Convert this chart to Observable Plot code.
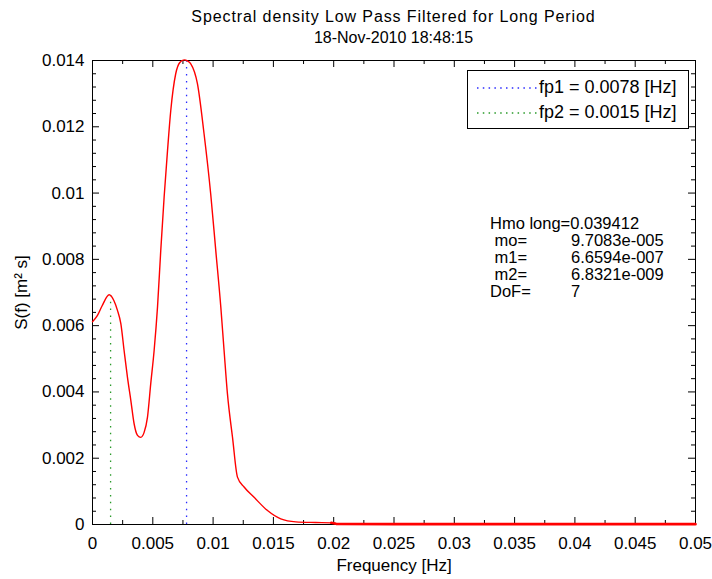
<!DOCTYPE html>
<html>
<head>
<meta charset="utf-8">
<script src="https://cdn.jsdelivr.net/npm/d3@7"></script>
<script src="https://cdn.jsdelivr.net/npm/@observablehq/plot@0.6"></script>
<style>
  body { margin: 0; background: #fff; }
  #wrap { position: relative; width: 712px; height: 579px; font-family: "Liberation Sans", Arial, sans-serif; color: #000; }
  #title { padding-left: 92px; width: 603px; text-align: center; font-size: 16px; line-height: 21px; padding-top: 6px; height: 44px; }
  #title .l1 { letter-spacing: 0.9px; }
  #legend { position: absolute; left: 467px; top: 70px; width: 220px; height: 57px; border: 1px solid #000; background: #fff; font-size: 18px; }
  #legend .row { position: absolute; left: 0; height: 22px; line-height: 22px; white-space: nowrap; }
  #legend svg { position: absolute; left: 9px; top: 10px; }
  #legend span { position: absolute; left: 71px; top: 0; }
  #notes { position: absolute; left: 0; top: 0; font-size: 16.5px; }
  #notes div { position: absolute; white-space: pre; line-height: 16px; height: 16px; }
</style>
</head>
<body>
<div id="wrap">
  <div id="title"><div class="l1">Spectral density Low Pass Filtered for Long Period</div><div>18-Nov-2010 18:48:15</div></div>
  <div id="chart"></div>
  <div id="legend"></div>
  <div id="notes"></div>
</div>
<script>
// ---- data ----
const freq = [0, 0.0004, 0.0008, 0.00138, 0.00177, 0.00207, 0.00235, 0.00262, 0.0029, 0.00318,
  0.00345, 0.00373, 0.004, 0.00428, 0.00456, 0.00483, 0.00511, 0.00539, 0.00566, 0.00594,
  0.00622, 0.00649, 0.0069, 0.00724, 0.0076, 0.0079, 0.00815, 0.0087, 0.00925, 0.0098,
  0.01022, 0.01064, 0.01091, 0.01119, 0.01161, 0.01202, 0.01257, 0.0134, 0.01451, 0.01561,
  0.01686, 0.0185, 0.0198, 0.0202, 0.025, 0.03, 0.035, 0.04, 0.045, 0.05];
const density = [0.00612, 0.0063, 0.0066, 0.00693, 0.00676, 0.00646, 0.00606, 0.00525, 0.00444, 0.00374,
  0.00304, 0.00269, 0.00263, 0.00278, 0.00324, 0.00425, 0.00525, 0.00656, 0.00827, 0.00988,
  0.01128, 0.01249, 0.0136, 0.01394, 0.01402, 0.01398, 0.0139, 0.0133, 0.01179, 0.00998,
  0.00827, 0.00656, 0.00525, 0.00394, 0.00263, 0.00143, 0.00113, 0.00082, 0.00042, 0.00017,
  0.00008, 0.00006, 0.00005, 0.00002, 0.00001, 0.00001, 0.00001, 0.00001, 0.00001, 0.00001];

const peakNames = ["fp1 = 0.0078 [Hz]", "fp2 = 0.0015 [Hz]"];
const peakFreq = [0.0078, 0.0015];
const peakTop = [0.0140, 0.0069];
const peakColors = ["#2b2bff", "#2a9a2a"];

const noteLabels = ["Hmo long=0.039412", " mo=", " m1=", " m2=", "DoF="];
const noteValues = ["", "9.7083e-005", "6.6594e-007", "6.8321e-009", "7"];

const xTicks = [0, 0.005, 0.01, 0.015, 0.02, 0.025, 0.03, 0.035, 0.04, 0.045, 0.05];
const xTickLabels = ["0", "0.005", "0.01", "0.015", "0.02", "0.025", "0.03", "0.035", "0.04", "0.045", "0.05"];
const xMinor = [0.0025, 0.0075, 0.0125, 0.0175, 0.0225, 0.0275, 0.0325, 0.0375, 0.0425, 0.0475];
const yTicks = [0, 0.002, 0.004, 0.006, 0.008, 0.01, 0.012, 0.014];
const yTickLabels = ["0", "0.002", "0.004", "0.006", "0.008", "0.01", "0.012", "0.014"];
const yMinor = [0.0004, 0.0008, 0.0012, 0.0016, 0.0024, 0.0028, 0.0032, 0.0036, 0.0044, 0.0048, 0.0052, 0.0056,
  0.0064, 0.0068, 0.0072, 0.0076, 0.0084, 0.0088, 0.0092, 0.0096, 0.0104, 0.0108, 0.0112, 0.0116,
  0.0124, 0.0128, 0.0132, 0.0136];

// ---- tables for the library ----
const curve = freq.map((f, i) => ({f, s: density[i]}));
const tail = curve.filter(d => d.f >= 0.0198);
const peaks = peakFreq.map((f, i) => ({f, top: peakTop[i], color: peakColors[i]}));
const xFmt = d => xTickLabels[xTicks.indexOf(d)];
const yFmt = d => yTickLabels[yTicks.indexOf(d)];

const W = 712, H = 529, ML = 92, MR = 17, MT = 10, MB = 55;
const innerW = W - ML - MR, innerH = H - MT - MB;

// inward tick marks (MATLAB style), drawn as short ticks via insets
const xIn = (data, side, len) => Plot.tickX(data, {x: d => d, stroke: "#000", strokeWidth: 1,
  [side === "bottom" ? "insetTop" : "insetBottom"]: innerH - len});
const yIn = (data, side, len) => Plot.tickY(data, {y: d => d, stroke: "#000", strokeWidth: 1,
  [side === "left" ? "insetRight" : "insetLeft"]: innerW - len});

const plot = Plot.plot({
  width: W,
  height: H,
  marginTop: MT,
  marginLeft: ML,
  marginRight: MR,
  marginBottom: MB,
  style: {fontFamily: "'Liberation Sans', Arial, sans-serif", fontSize: "17px", color: "#000", background: "#fff", overflow: "visible"},
  x: {domain: [0, 0.05]},
  y: {domain: [0, 0.014]},
  marks: [
    Plot.ruleX(peaks, {x: "f", y1: 0, y2: "top", stroke: "color", strokeWidth: 1.3, strokeDasharray: "1.5,5.4"}),
    Plot.frame({stroke: "#000"}),
    Plot.axisX(xTicks, {anchor: "bottom", tickSize: 0, tickPadding: 12, tickFormat: xFmt,
      label: "Frequency [Hz]", labelAnchor: "center", labelOffset: 46, labelArrow: "none", fontSize: 17}),
    Plot.axisY(yTicks, {anchor: "left", tickSize: 0, tickPadding: 8, tickFormat: yFmt,
      label: "S(f) [m² s]", labelAnchor: "center", labelOffset: 78, labelArrow: "none", fontSize: 17}),
    xIn(xTicks, "bottom", 7),
    xIn(xMinor, "bottom", 4),
    xIn(xTicks, "top", 7),
    xIn(xMinor, "top", 4),
    yIn(yTicks, "left", 7),
    yIn(yMinor, "left", 4),
    yIn(yTicks, "right", 7),
    yIn(yMinor, "right", 4),
    Plot.line(curve, {x: "f", y: "s", stroke: "#ff0000", strokeWidth: 1.4, curve: "monotone-x"}),
    Plot.line(tail, {x: "f", y: "s", stroke: "#ff0000", strokeWidth: 2.6})
  ]
});
document.getElementById("chart").appendChild(plot);

// legend
const legend = document.getElementById("legend");
peakNames.forEach((name, i) => {
  const row = document.createElement("div");
  row.className = "row";
  row.style.top = (5 + i * 25) + "px";
  row.style.width = "218px";
  row.innerHTML = `<svg width="60" height="4"><line x1="0" y1="2" x2="60" y2="2" stroke="${peakColors[i]}" stroke-width="1.3" stroke-dasharray="1.5,4.3"/></svg><span>${name}</span>`;
  legend.appendChild(row);
});

// annotation
const notes = document.getElementById("notes");
noteLabels.forEach((t, i) => {
  const a = document.createElement("div");
  a.textContent = t;
  a.style.left = "490px";
  a.style.top = (215 + i * 17) + "px";
  notes.appendChild(a);
  if (noteValues[i]) {
    const b = document.createElement("div");
    b.textContent = noteValues[i];
    b.style.left = "571px";
    b.style.top = (215 + i * 17) + "px";
    notes.appendChild(b);
  }
});
</script>
</body>
</html>
